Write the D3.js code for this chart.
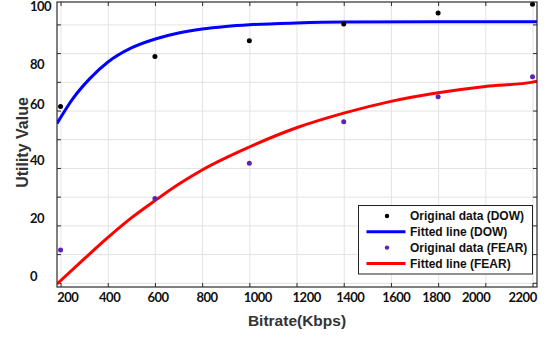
<!DOCTYPE html>
<html>
<head>
<meta charset="utf-8">
<script src="https://cdn.jsdelivr.net/npm/d3@7"></script>
<style>
  body { margin: 0; background: #fff; }
  svg { display: block; }
</style>
</head>
<body>
<svg id="chart" width="552" height="338"></svg>
<script>
// measured points
const bitrates = [200, 600, 1000, 1400, 1800, 2200];
const dowOriginal = [61.4, 78.8, 84.3, 90.1, 94.0, 97.0];
const fearOriginal = [11.4, 29.4, 41.6, 56.1, 64.8, 71.8];

// fitted curves
const dowFitX = [185, 250, 325, 401, 500, 605, 700, 800, 900, 1000, 1200, 1400, 1800, 2219];
const dowFitY = [55.5, 63.9, 71.2, 76.9, 81.8, 85.0, 87.0, 88.4, 89.3, 89.9, 90.5, 90.8, 90.9, 90.9];
const fearFitX = [185, 300, 401, 500, 605, 700, 800, 1000, 1200, 1400, 1600, 1800, 2000, 2200, 2219];
const fearFitY = [-0.4, 8.3, 15.8, 22.6, 28.9, 34.3, 39.3, 47.3, 54.0, 59.1, 63.2, 66.2, 68.4, 69.9, 70.2];

// grid / ticks
const xTicks = [200, 400, 600, 800, 1000, 1200, 1400, 1600, 1800, 2000, 2200];
const yTicks = [0, 10, 20, 30, 40, 50, 60, 70, 80, 90];

// tick labels as printed in the source (they sit a bit off the grid)
const xTickLabels = ['200', '400', '600', '800', '1000', '1200', '1400', '1600', '1800', '2000', '2200'];
const xTickLabelAt = [231, 408, 613, 821, 1036, 1243, 1428, 1623, 1792, 1961, 2158];
const yTickLabels = ['100', '80', '60', '40', '20', '0'];
const yTickLabelAt = [96.3, 76.2, 62.3, 42.8, 22.5, 2.4];

const legendNames = ['Original data (DOW)', 'Fitted line (DOW)', 'Original data (FEAR)', 'Fitted line (FEAR)'];

const plotL = 57, plotR = 537, plotT = 2, plotB = 287;
const blue = '#0000ff', red = '#ff0000', purple = '#5b22b8';

const svg = d3.select('#chart');

const x = d3.scaleLinear().domain([185, 2219]).range([plotL, plotR]);
const y = d3.scaleLinear().domain([-1.46, 97.8]).range([plotB, plotT]);

// grid
svg.append('g')
  .attr('transform', 'translate(0,' + plotB + ')')
  .call(d3.axisBottom(x).tickValues(xTicks).tickSize(-(plotB - plotT)).tickFormat(''))
  .call(g => g.select('.domain').remove())
  .selectAll('line').attr('stroke', '#e3e3e3');

svg.append('g')
  .attr('transform', 'translate(' + plotL + ',0)')
  .call(d3.axisLeft(y).tickValues(yTicks).tickSize(-(plotR - plotL)).tickFormat(''))
  .call(g => g.select('.domain').remove())
  .selectAll('line').attr('stroke', '#e3e3e3');

// inward ticks on all four sides
const tickColor = '#2b2b2b';
function ticks(axis, tx, ty) {
  svg.append('g')
    .attr('transform', 'translate(' + tx + ',' + ty + ')')
    .call(axis.tickSizeInner(-4).tickSizeOuter(0).tickFormat(''))
    .call(g => g.select('.domain').remove())
    .selectAll('line').attr('stroke', tickColor);
}
ticks(d3.axisBottom(x).tickValues(xTicks), 0, plotB);
ticks(d3.axisTop(x).tickValues(xTicks), 0, plotT);
ticks(d3.axisLeft(y).tickValues(yTicks), plotL, 0);
ticks(d3.axisRight(y).tickValues(yTicks), plotR, 0);

// clip for curves
svg.append('clipPath').attr('id', 'plot')
  .append('rect').attr('x', plotL).attr('y', plotT).attr('width', plotR - plotL).attr('height', plotB - plotT);

const line = d3.line().x(d => x(d[0])).y(d => y(d[1])).curve(d3.curveMonotoneX);

svg.append('path')
  .datum(d3.zip(dowFitX, dowFitY))
  .attr('clip-path', 'url(#plot)')
  .attr('fill', 'none').attr('stroke', blue).attr('stroke-width', 3)
  .attr('d', line);

svg.append('path')
  .datum(d3.zip(fearFitX, fearFitY))
  .attr('clip-path', 'url(#plot)')
  .attr('fill', 'none').attr('stroke', red).attr('stroke-width', 3)
  .attr('d', line);

// original data points
svg.selectAll('.dow')
  .data(d3.zip(bitrates, dowOriginal))
  .enter().append('circle')
  .attr('cx', d => x(d[0])).attr('cy', d => y(d[1]))
  .attr('r', 2.5).attr('fill', '#000');

svg.selectAll('.fear')
  .data(d3.zip(bitrates, fearOriginal))
  .enter().append('circle')
  .attr('cx', d => x(d[0])).attr('cy', d => y(d[1]))
  .attr('r', 2.5).attr('fill', purple);

// box
svg.append('rect')
  .attr('x', plotL).attr('y', plotT)
  .attr('width', plotR - plotL).attr('height', plotB - plotT)
  .attr('fill', 'none').attr('stroke', tickColor).attr('stroke-width', 1.2);

// tick labels
const tickFont = 'Lato, "Liberation Sans", sans-serif';
svg.selectAll('.xl')
  .data(xTickLabels)
  .enter().append('text')
  .attr('x', (d, i) => x(xTickLabelAt[i]))
  .attr('y', 301.5)
  .attr('text-anchor', 'middle')
  .style('font-family', tickFont).style('font-weight', 'bold')
  .style('font-size', '13px').style('letter-spacing', '-0.5px')
  .attr('fill', '#111')
  .text(d => d);

svg.selectAll('.yl')
  .data(yTickLabels)
  .enter().append('text')
  .attr('x', 30)
  .attr('y', (d, i) => y(yTickLabelAt[i]) + 4.7)
  .style('font-family', tickFont).style('font-weight', 'bold')
  .style('font-size', '13px').style('letter-spacing', '-0.5px')
  .attr('fill', '#111')
  .text(d => d);

// axis titles
const titleFont = '"Liberation Sans", Arial, sans-serif';
svg.append('text')
  .attr('x', 297).attr('y', 326)
  .attr('text-anchor', 'middle')
  .style('font-family', titleFont).style('font-weight', 'bold').style('font-size', '15.5px')
  .attr('fill', '#333')
  .text('Bitrate(Kbps)');

svg.append('text')
  .attr('transform', 'translate(28,142.5)rotate(-90)')
  .attr('text-anchor', 'middle')
  .style('font-family', titleFont).style('font-weight', 'bold').style('font-size', '16px')
  .attr('fill', '#333')
  .text('Utility Value');

// legend
const legend = svg.append('g').attr('transform', 'translate(358.5,205.5)');
legend.append('rect')
  .attr('width', 174).attr('height', 68.5)
  .attr('fill', '#fff').attr('stroke', '#222').attr('stroke-width', 1);

const legendKinds = ['dot', 'line', 'dot', 'line'];
const legendColors = ['#000', blue, purple, red];
legendNames.forEach((name, i) => {
  const cy = 10.5 + i * 15.8;
  if (legendKinds[i] === 'dot') {
    legend.append('circle').attr('cx', 28.5).attr('cy', cy).attr('r', 2.2).attr('fill', legendColors[i]);
  } else {
    legend.append('line')
      .attr('x1', 8).attr('x2', 47).attr('y1', cy).attr('y2', cy)
      .attr('stroke', legendColors[i]).attr('stroke-width', 3);
  }
  legend.append('text')
    .attr('x', 51.5).attr('y', cy + 4.2)
    .style('font-family', titleFont).style('font-weight', 'bold').style('font-size', '12px')
    .attr('fill', '#111')
    .text(name);
});
</script>
</body>
</html>
